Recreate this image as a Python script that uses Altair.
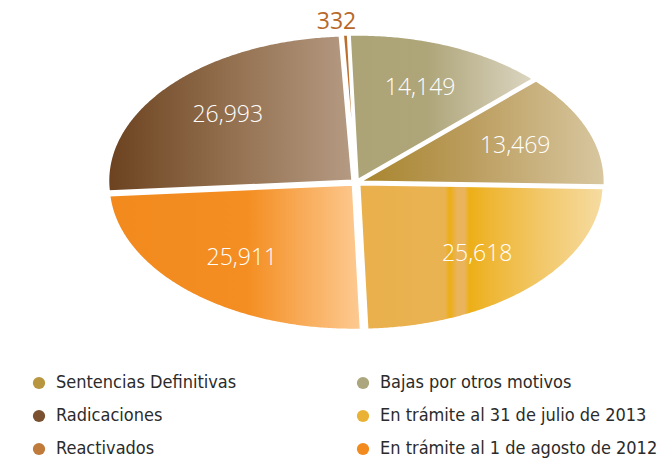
import math
import altair as alt
import pandas as pd

# ---- data ----
categories = [
    "Reactivados",
    "Bajas por otros motivos",
    "Sentencias Definitivas",
    "En trámite al 31 de julio de 2013",
    "En trámite al 1 de agosto de 2012",
    "Radicaciones",
]
values = [332, 14149, 13469, 25618, 25911, 26993]

legend_order = [
    "Sentencias Definitivas",
    "Bajas por otros motivos",
    "Radicaciones",
    "En trámite al 31 de julio de 2013",
    "Reactivados",
    "En trámite al 1 de agosto de 2012",
]
legend_colors = ["#b8953f", "#aca67e", "#7a5030", "#e9b234", "#c07a3a", "#f28a1e"]

# gradient stops (left -> right) per slice
gradients = {
    "Reactivados": [(0, "#b86a2a"), (1, "#c47a38")],
    "Bajas por otros motivos": [(0, "#aca377"), (0.42, "#aea579"), (1, "#dcd6c2")],
    "Sentencias Definitivas": [(0, "#a8852e"), (0.45, "#bb9d5e"), (1, "#d8c7a0")],
    "En trámite al 31 de julio de 2013": [
        (0, "#e9b04c"), (0.35, "#eab352"), (0.37, "#edad14"), (0.40, "#e9b45c"),
        (0.43, "#e9b45c"), (0.45, "#edaf16"), (0.52, "#eeb530"), (0.75, "#f2c86a"),
        (1, "#f6dca2")],
    "En trámite al 1 de agosto de 2012": [(0, "#f28a1e"), (0.55, "#f48e22"), (1, "#fdca92")],
    "Radicaciones": [(0, "#6c4220"), (0.5, "#93704f"), (1, "#b59a83")],
}

# ---- geometry (squashed pie) ----
start_deg = -3.0
explode = 0.02
total = sum(values)
rows = []
labels = []
acc = 0.0
for cat, v in zip(categories, values):
    a0 = math.radians(start_deg + 360.0 * acc / total)
    acc += v
    a1 = math.radians(start_deg + 360.0 * acc / total)
    mid = (a0 + a1) / 2
    ox, oy = explode * math.sin(mid), explode * math.cos(mid)
    pts = [(ox, oy)]
    n = max(2, int(math.degrees(a1 - a0) / 0.5))
    for i in range(n + 1):
        t = a0 + (a1 - a0) * i / n
        pts.append((ox + math.sin(t), oy + math.cos(t)))
    pts.append((ox, oy))
    for k, (x, y) in enumerate(pts):
        rows.append({"cat": cat, "x": x, "y": y, "k": k})
    r = 1.105 if v < 1000 else 0.7
    labels.append({"cat": cat, "v": v, "x": r * math.sin(mid), "y": r * math.cos(mid),
                   "inside": v >= 1000})

poly = pd.DataFrame(rows)
lab = pd.DataFrame(labels)

xs = alt.Scale(domain=[-1.426, 1.258])
ys = alt.Scale(domain=[-1.941, 1.134])
X = alt.X("x:Q", scale=xs, axis=None)
Y = alt.Y("y:Q", scale=ys, axis=None)

LEGEND_FONT = "DejaVu Sans Condensed"

# hidden layer for the legend (covered by slices)
leg_df = pd.DataFrame({"cat": categories, "x": [0.3] * 6, "y": [-0.3] * 6})
legend_layer = alt.Chart(leg_df).mark_point(filled=True, size=10, opacity=1).encode(
    x=X, y=Y,
    color=alt.Color(
        "cat:N",
        scale=alt.Scale(domain=legend_order, range=legend_colors),
        legend=alt.Legend(
            title=None, orient="none", legendX=22, legendY=356, columns=2,
            direction="horizontal", symbolType="circle", symbolSize=150,
            symbolOpacity=1, symbolStrokeWidth=0,
            labelFont=LEGEND_FONT, labelFontSize=18,
            labelColor="#2b2b2b", labelOffset=8, rowPadding=15, columnPadding=117,
            labelLimit=400,
        ),
    ),
)

layers = [legend_layer]
for cat in categories:
    grad = alt.Gradient(
        gradient="linear",
        stops=[alt.GradientStop(offset=o, color=c) for o, c in gradients[cat]],
        x1=0, x2=1, y1=0, y2=0,
    )
    layers.append(
        alt.Chart(poly[poly["cat"] == cat]).mark_line(
            filled=True, fill=grad, stroke="white", strokeWidth=2, strokeJoin="miter"
        ).encode(x=X, y=Y, order="k:Q")
    )

text_in = alt.Chart(lab[lab["inside"]]).mark_text(
    font="Open Sans", fontSize=23, fontWeight=300, color="white", baseline="middle"
).encode(x=X, y=Y, text=alt.Text("v:Q", format=","))
text_out = alt.Chart(lab[~lab["inside"]]).mark_text(
    font="Open Sans", fontSize=23, fontWeight=400, color="#b8692a", baseline="middle", dx=-8
).encode(x=X, y=Y, text=alt.Text("v:Q", format=","))
layers += [text_in, text_out]

chart = alt.layer(*layers).properties(
    width=655, height=446, padding={"top": 10, "left": 0, "right": 0, "bottom": 0},
    autosize=alt.AutoSizeParams(type="none"),
).configure_view(stroke=None)

chart.save("out.html", embed_options={"renderer": "svg", "actions": False})
